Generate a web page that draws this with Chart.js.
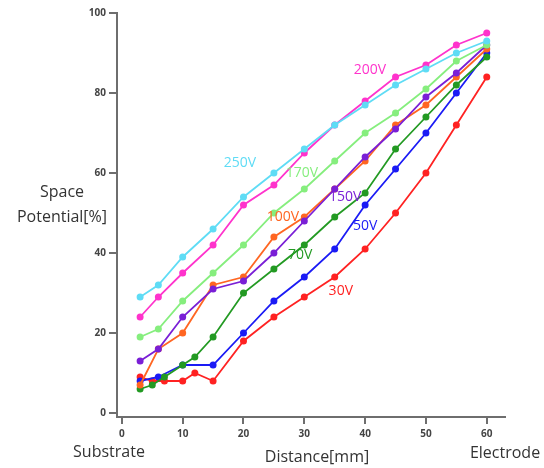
<!DOCTYPE html>
<html>
<head>
<meta charset="utf-8">
<script src="https://cdn.jsdelivr.net/npm/chart.js@4"></script>
<style>
  body { margin: 0; background: #fff; }
  #wrap { width: 544px; height: 468px; }
</style>
</head>
<body>
<div id="wrap"><canvas id="myChart" width="544" height="468"></canvas></div>
<script>
// distances (mm) where each curve was measured
const x_main = [3, 6, 10, 15, 20, 25, 30, 35, 40, 45, 50, 55, 60];
const x_fine = [3, 5, 7, 10, 12, 15, 20, 25, 30, 35, 40, 45, 50, 55, 60];

// space potential [%] per voltage
const v250 = [29, 32, 39, 46, 54, 60, 66, 72, 77, 82, 86, 90, 93];
const v200 = [24, 29, 35, 42, 52, 57, 65, 72, 78, 84, 87, 92, 95];
const v170 = [19, 21, 28, 35, 42, 50, 56, 63, 70, 75, 81, 88, 92];
const v150 = [13, 16, 24, 31, 33, 40, 48, 56, 64, 71, 79, 85, 92];
const v100 = [7, 16, 20, 32, 34, 44, 49, 56, 63, 72, 77, 84, 91];
const v70  = [6, 7, 9, 12, 14, 19, 30, 36, 42, 49, 55, 66, 74, 82, 89];
const v50  = [8, 9, 12, 12, 20, 28, 34, 41, 52, 61, 70, 80, 90];
const v30  = [9, 8, 8, 8, 10, 8, 18, 24, 29, 34, 41, 50, 60, 72, 84];

const x_ticks = [0, 10, 20, 30, 40, 50, 60];
const y_ticks = [0, 20, 40, 60, 80, 100];

function pts(xs, ys) {
    return ys.map((y, i) => ({x: xs[i], y: y}));
}

// label text drawn next to each curve, anchored in data units
const series = [
    {name: '250V', xs: x_main, ys: v250, color: '#5fdcf5', lx: 19.4, ly: 62.5},
    {name: '200V', xs: x_main, ys: v200, color: '#ff33cc', lx: 40.8, ly: 85.7},
    {name: '170V', xs: x_main, ys: v170, color: '#86ee7e', lx: 29.6, ly: 60},
    {name: '150V', xs: x_main, ys: v150, color: '#7a1fd6', lx: 36.7, ly: 54},
    {name: '100V', xs: x_main, ys: v100, color: '#ff6622', lx: 26.5, ly: 49},
    {name: '70V',  xs: x_fine, ys: v70,  color: '#239a23', lx: 29.3, ly: 39.5},
    {name: '50V',  xs: x_main, ys: v50,  color: '#1b1bf5', lx: 40, ly: 46.7},
    {name: '30V',  xs: x_fine, ys: v30,  color: '#ff2222', lx: 36, ly: 30.5},
];

const textPlugin = {
    id: 'texts',
    afterDraw(chart) {
        const ctx = chart.ctx;
        const xs = chart.scales.x, ys = chart.scales.y;
        ctx.save();
        ctx.textAlign = 'center';
        ctx.textBaseline = 'middle';
        ctx.font = '14px "Open Sans"';
        series.forEach(s => {
            ctx.fillStyle = s.color;
            ctx.fillText(s.name, xs.getPixelForValue(s.lx), ys.getPixelForValue(s.ly));
        });
        ctx.fillStyle = '#333';
        ctx.font = '16px "Open Sans"';
        ctx.fillText('Space', 62, 192);
        ctx.fillText('Potential[%]', 62, 217);
        ctx.fillText('Distance[mm]', 317, 457);
        ctx.fillText('Substrate', 109, 452);
        ctx.fillText('Electrode', 505, 453);
        ctx.restore();
    }
};

const chart_config = {
    type: 'line',
    data: {
        datasets: series.map(s => ({
            label: s.name,
            data: pts(s.xs, s.ys),
            borderColor: s.color,
            backgroundColor: s.color,
            borderWidth: 1.8,
            pointRadius: 2.6,
            pointHoverRadius: 2.6,
            tension: 0,
        }))
    },
    options: {
        responsive: false,
        animation: false,
        layout: {padding: {top: 13, right: 39, left: 0, bottom: 0}},
        plugins: {legend: {display: false}, tooltip: {enabled: false}},
        scales: {
            x: {
                type: 'linear',
                min: -0.8, max: 63,
                afterBuildTicks: (axis) => { axis.ticks = x_ticks.map(v => ({value: v})); },
                afterFit: (axis) => { axis.height = 51; },
                border: {display: true, color: '#6e6e6e', width: 2},
                grid: {drawOnChartArea: false, color: '#6e6e6e', lineWidth: 2, tickLength: 7},
                ticks: {color: '#444', font: {family: 'Open Sans', size: 10, weight: 'bold'}, padding: 4, maxRotation: 0},
            },
            y: {
                min: -1, max: 100,
                afterBuildTicks: (axis) => { axis.ticks = y_ticks.map(v => ({value: v})); },
                afterFit: (axis) => { axis.width = 117; },
                border: {display: true, color: '#6e6e6e', width: 2},
                grid: {drawOnChartArea: false, color: '#6e6e6e', lineWidth: 2, tickLength: 8},
                ticks: {color: '#444', font: {family: 'Open Sans', size: 10, weight: 'bold'}, padding: 3},
            }
        }
    },
    plugins: [textPlugin]
};

const myChart = new Chart(document.getElementById('myChart'), chart_config);
</script>
</body>
</html>
